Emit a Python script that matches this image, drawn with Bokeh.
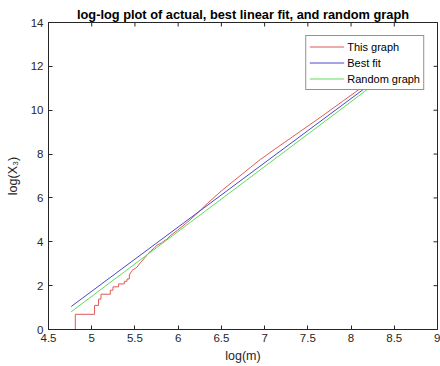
from bokeh.plotting import figure
from bokeh.models import LinearAxis, FixedTicker, Range1d, Legend, LegendItem
from bokeh.embed import file_html
from bokeh.resources import INLINE

# ---- data ----
actual_x = [4.763, 4.81, 4.81, 5.033, 5.033, 5.079, 5.079, 5.107, 5.107, 5.215, 5.215,
            5.246, 5.246, 5.311, 5.311, 5.377, 5.377, 5.408, 5.408, 5.435, 5.435,
            5.466, 5.50, 5.524, 5.563, 5.58, 5.62, 5.68, 5.72, 5.756, 5.80, 5.83, 5.87,
            5.91, 5.99, 6.10, 6.20, 6.335, 6.50, 6.70, 6.95, 7.11, 7.40, 7.65, 7.90,
            8.20, 8.45]
actual_y = [0.0, 0.0, 0.693, 0.693, 1.099, 1.099, 1.386, 1.386, 1.609, 1.609, 1.792,
            1.792, 1.946, 1.946, 2.079, 2.079, 2.197, 2.197, 2.303, 2.303, 2.485,
            2.69, 2.78, 2.84, 3.05, 3.12, 3.30, 3.58, 3.70, 3.85, 3.93, 4.02, 4.12,
            4.28, 4.52, 4.87, 5.22, 5.74, 6.32, 6.96, 7.75, 8.20, 9.00, 9.69, 10.40,
            11.25, 11.95]
fit_x = [4.763, 8.45]
fit_y = [1.05, 11.85]
random_x = [4.763, 8.45]
random_y = [0.81, 11.72]

x_ticks = [4.5, 5, 5.5, 6, 6.5, 7, 7.5, 8, 8.5, 9]
x_tick_labels = ["4.5", "5", "5.5", "6", "6.5", "7", "7.5", "8", "8.5", "9"]
y_ticks = [0, 2, 4, 6, 8, 10, 12, 14]
y_tick_labels = ["0", "2", "4", "6", "8", "10", "12", "14"]

title_text = "log-log plot of actual, best linear fit, and random graph"
series_names = ["This graph", "Best fit", "Random graph"]
colors = ["#e05858", "#4848cc", "#5edc5e"]

FONT = "Liberation Sans"
AX = "#262626"
X_MIN, X_MAX, Y_MIN, Y_MAX = 4.5, 9, 0, 14

p = figure(width=440, height=366, output_backend="svg", toolbar_location=None,
           x_range=Range1d(X_MIN, X_MAX), y_range=Range1d(Y_MIN, Y_MAX),
           min_border_left=48, min_border_right=3, min_border_top=22,
           min_border_bottom=37, x_axis_type=None, y_axis_type=None)
p.grid.visible = False
p.outline_line_color = AX
p.outline_line_width = 1

p.title.text = title_text
p.title.align = "center"
p.title.text_font = FONT
p.title.text_font_size = "12.8px"
p.title.text_font_style = "bold"
p.title.text_color = "black"
p.title.standoff = 2
p.title.offset = 0

def style_axis(ax, ticks, labels):
    ax.ticker = FixedTicker(ticks=ticks)
    ax.major_label_overrides = {t: l for t, l in zip(ticks, labels)}
    ax.major_tick_in = 4
    ax.major_tick_out = 0
    ax.minor_tick_in = 0
    ax.minor_tick_out = 0
    ax.axis_line_color = AX
    ax.major_tick_line_color = AX
    ax.major_label_text_font = FONT
    ax.major_label_text_font_size = "11.5px"
    ax.major_label_text_color = AX
    ax.axis_label_text_font = FONT
    ax.axis_label_text_font_size = "12.5px"
    ax.axis_label_text_font_style = "normal"
    ax.axis_label_text_color = AX

xb = LinearAxis(axis_label="log(m)")
style_axis(xb, x_ticks, x_tick_labels)
xb.major_label_standoff = 4
xb.axis_label_standoff = 4
p.add_layout(xb, "below")

yl = LinearAxis(axis_label="log(X₃)")
style_axis(yl, y_ticks, y_tick_labels)
yl.major_label_standoff = 5
yl.axis_label_standoff = 8
p.add_layout(yl, "left")

# inward ticks on the top and right edges of the box (clipped to the frame)
p.scatter(x_ticks, [Y_MAX] * len(x_ticks), marker="dash", size=8, angle=1.5708,
          line_color=AX, line_width=1)
p.scatter([X_MAX] * len(y_ticks), y_ticks, marker="dash", size=8,
          line_color=AX, line_width=1)

r1 = p.line(actual_x, actual_y, line_color=colors[0], line_width=1)
r2 = p.line(fit_x, fit_y, line_color=colors[1], line_width=1)
r3 = p.line(random_x, random_y, line_color=colors[2], line_width=1)

legend = Legend(items=[LegendItem(label=series_names[0], renderers=[r1]),
                       LegendItem(label=series_names[1], renderers=[r2]),
                       LegendItem(label=series_names[2], renderers=[r3])],
                location="top_right")
legend.label_text_font = FONT
legend.label_text_font_size = "11px"
legend.label_text_color = "black"
legend.glyph_width = 35
legend.glyph_height = 15
legend.label_height = 15
legend.label_standoff = 3
legend.spacing = 1
legend.padding = 3
legend.margin = 13
legend.border_line_color = AX
legend.border_line_width = 1
legend.background_fill_color = "white"
legend.background_fill_alpha = 1
p.add_layout(legend)

open("out.html", "w").write(file_html(p, INLINE))
